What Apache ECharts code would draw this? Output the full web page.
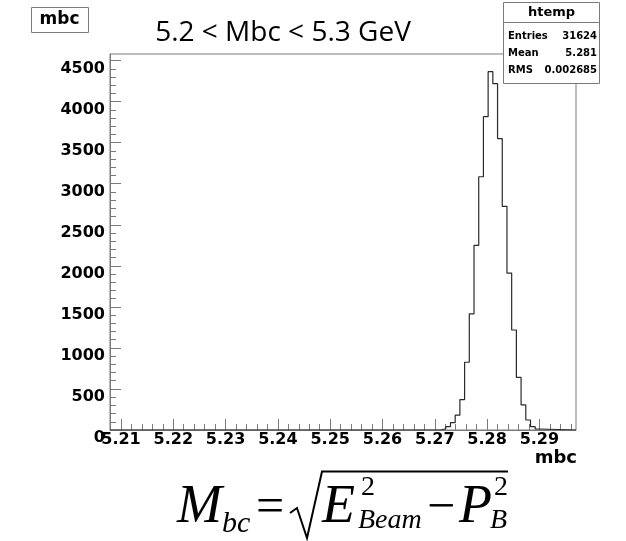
<!DOCTYPE html>
<html>
<head>
<meta charset="utf-8">
<script src="https://cdn.jsdelivr.net/npm/echarts@6/dist/echarts.min.js"></script>
<style>
html,body{margin:0;padding:0;background:#fff;}
#c{width:626px;height:541px;}
</style>
</head>
<body>
<div id="c"></div>
<script>
// ---- data ----
var xRange = [5.2079, 5.2970];
var yRange = [0, 4580];
var binLowEdges = [5.2712, 5.2721, 5.2730, 5.2739, 5.2748, 5.2757, 5.2766, 5.2775, 5.2784, 5.2793,
                   5.2802, 5.2811, 5.2820, 5.2829, 5.2838, 5.2847, 5.2856, 5.2865, 5.2874, 5.2883, 5.2892];
var binUpperEnd = 5.2901;
var binCounts = [15, 40, 90, 180, 370, 825, 1415, 2250, 3085, 3816,
                 4365, 4220, 3550, 2725, 1912, 1218, 640, 305, 122, 41, 12];
var xMajorTicks = [5.21, 5.22, 5.23, 5.24, 5.25, 5.26, 5.27, 5.28, 5.29];
var yMajorTicks = [0, 500, 1000, 1500, 2000, 2500, 3000, 3500, 4000, 4500];
var statsName = 'htemp';
var statsRows = [['Entries', '31624'], ['Mean', '5.281'], ['RMS', '0.002685']];
var histName = 'mbc';
var xTitle = 'mbc';
var titleText = '5.2 < Mbc < 5.3 GeV';

// minor tick positions (styling only)
var xMinorTicks = [];
for (var k = 0; k <= 44; k++) { var v = +(5.208 + k * 0.002).toFixed(3); if (v < xRange[1]) xMinorTicks.push(v); }
var yMinorTicks = [];
for (var j = 0; j <= 45; j++) { yMinorTicks.push(j * 100); }

// histogram as a step line
var histData = [[xRange[0], 0], [binLowEdges[0], 0]];
for (var i = 0; i < binLowEdges.length; i++) histData.push([binLowEdges[i], binCounts[i]]);
histData.push([binUpperEnd, 0]);
histData.push([xRange[1], 0]);

var FRAME = '#7a7a7a';

var chart = echarts.init(document.getElementById('c'), null, {renderer: 'canvas'});
var serif = 'Liberation Serif';
chart.setOption({
  animation: false,
  backgroundColor: '#fff',
  grid: {left: 110, right: 50, top: 54, bottom: 111, show: true, borderColor: FRAME, borderWidth: 1, backgroundColor: 'transparent'},
  xAxis: [{
    type: 'value', min: xRange[0], max: xRange[1], position: 'bottom',
    axisLine: {show: true, lineStyle: {color: FRAME, width: 1}},
    axisTick: {show: true, inside: true, length: 11, customValues: xMajorTicks, lineStyle: {color: FRAME}},
    axisLabel: {show: true, customValues: xMajorTicks, margin: 2, fontSize: 16, fontFamily: 'DejaVu Sans', fontWeight: 'bold', color: '#000',
      formatter: function (v) { return v.toFixed(2); }},
    splitLine: {show: false}
  }, {
    type: 'value', min: xRange[0], max: xRange[1], position: 'bottom',
    axisLine: {show: false},
    axisTick: {show: true, inside: true, length: 6, customValues: xMinorTicks, lineStyle: {color: FRAME}},
    axisLabel: {show: false},
    splitLine: {show: false}
  }],
  yAxis: [{
    type: 'value', min: yRange[0], max: yRange[1], position: 'left',
    axisLine: {show: true, lineStyle: {color: FRAME, width: 1}},
    axisTick: {show: true, inside: true, length: 11, customValues: yMajorTicks, lineStyle: {color: FRAME}},
    axisLabel: {show: true, customValues: yMajorTicks, margin: 5, fontSize: 16, fontFamily: 'DejaVu Sans', fontWeight: 'bold', color: '#000',
      verticalAlign: 'top', lineHeight: 16,
      formatter: function (v) { return String(v); }},
    splitLine: {show: false}
  }, {
    type: 'value', min: yRange[0], max: yRange[1], position: 'left',
    axisLine: {show: false},
    axisTick: {show: true, inside: true, length: 6, customValues: yMinorTicks, lineStyle: {color: FRAME}},
    axisLabel: {show: false},
    splitLine: {show: false}
  }],
  series: [{
    type: 'line', step: 'end', xAxisIndex: 0, yAxisIndex: 0,
    data: histData, symbol: 'none',
    lineStyle: {color: '#2a2a2a', width: 1.2},
    clip: true
  }],
  graphic: [
    // histogram name box
    {type: 'rect', shape: {x: 31.5, y: 7.5, width: 57, height: 25}, style: {fill: '#fff', stroke: FRAME, lineWidth: 1}},
    {type: 'text', style: {text: histName, x: 59.5, y: 20, align: 'center', verticalAlign: 'middle', font: 'bold 17px "DejaVu Sans"', fill: '#000'}},
    // title
    {type: 'text', style: {text: titleText, x: 283, y: 33, align: 'center', verticalAlign: 'middle', font: '28px "Open Sans"', fill: '#000'}},
    // stats box
    {type: 'rect', z: 10, shape: {x: 503.5, y: 2.5, width: 96, height: 81}, style: {fill: '#fff', stroke: FRAME, lineWidth: 1}},
    {type: 'line', z: 11, shape: {x1: 503.5, y1: 22.5, x2: 599.5, y2: 22.5}, style: {stroke: FRAME, lineWidth: 1}},
    {type: 'text', z: 11, style: {text: statsName, x: 551.5, y: 12.5, align: 'center', verticalAlign: 'middle', font: 'bold 13px "DejaVu Sans"', fill: '#000'}},
    {type: 'text', z: 11, style: {text: statsRows[0][0], x: 508, y: 36, align: 'left', verticalAlign: 'middle', font: 'bold 10px "DejaVu Sans"', fill: '#000'}},
    {type: 'text', z: 11, style: {text: statsRows[0][1], x: 597, y: 36, align: 'right', verticalAlign: 'middle', font: 'bold 10px "DejaVu Sans"', fill: '#000'}},
    {type: 'text', z: 11, style: {text: statsRows[1][0], x: 508, y: 53, align: 'left', verticalAlign: 'middle', font: 'bold 10px "DejaVu Sans"', fill: '#000'}},
    {type: 'text', z: 11, style: {text: statsRows[1][1], x: 597, y: 53, align: 'right', verticalAlign: 'middle', font: 'bold 10px "DejaVu Sans"', fill: '#000'}},
    {type: 'text', z: 11, style: {text: statsRows[2][0], x: 508, y: 70, align: 'left', verticalAlign: 'middle', font: 'bold 10px "DejaVu Sans"', fill: '#000'}},
    {type: 'text', z: 11, style: {text: statsRows[2][1], x: 597, y: 70, align: 'right', verticalAlign: 'middle', font: 'bold 10px "DejaVu Sans"', fill: '#000'}},
    // x axis title
    {type: 'text', style: {text: xTitle, x: 577, y: 458, align: 'right', verticalAlign: 'middle', font: 'bold 18px "DejaVu Sans"', fill: '#000'}},
    // formula  M_bc = sqrt(E^2_Beam - P^2_B)
    {type: 'text', style: {text: 'M', x: 177, y: 508, align: 'left', verticalAlign: 'middle', font: 'italic 54px "' + serif + '"', fill: '#000'}},
    {type: 'text', style: {text: 'bc', x: 222, y: 524, align: 'left', verticalAlign: 'middle', font: 'italic 30px "' + serif + '"', fill: '#000'}},
    {type: 'text', style: {text: '=', x: 256, y: 509, align: 'left', verticalAlign: 'middle', font: '50px "' + serif + '"', fill: '#000'}},
    {type: 'polyline', shape: {points: [[290, 513], [297, 508], [307, 538], [322, 471.5], [508, 471.5]]}, style: {stroke: '#000', lineWidth: 2, fill: null}},
    {type: 'text', style: {text: 'E', x: 322, y: 508, align: 'left', verticalAlign: 'middle', font: 'italic 54px "' + serif + '"', fill: '#000'}},
    {type: 'text', style: {text: '2', x: 361, y: 488, align: 'left', verticalAlign: 'middle', font: '28px "' + serif + '"', fill: '#000'}},
    {type: 'text', style: {text: 'Beam', x: 358, y: 521, align: 'left', verticalAlign: 'middle', font: 'italic 28px "' + serif + '"', fill: '#000'}},
    {type: 'text', style: {text: '\u2212', x: 427, y: 509, align: 'left', verticalAlign: 'middle', font: '50px "' + serif + '"', fill: '#000'}},
    {type: 'text', style: {text: 'P', x: 459, y: 508, align: 'left', verticalAlign: 'middle', font: 'italic 54px "' + serif + '"', fill: '#000'}},
    {type: 'text', style: {text: '2', x: 494, y: 488, align: 'left', verticalAlign: 'middle', font: '28px "' + serif + '"', fill: '#000'}},
    {type: 'text', style: {text: 'B', x: 490, y: 521, align: 'left', verticalAlign: 'middle', font: 'italic 28px "' + serif + '"', fill: '#000'}}
  ]
});
</script>
</body>
</html>
